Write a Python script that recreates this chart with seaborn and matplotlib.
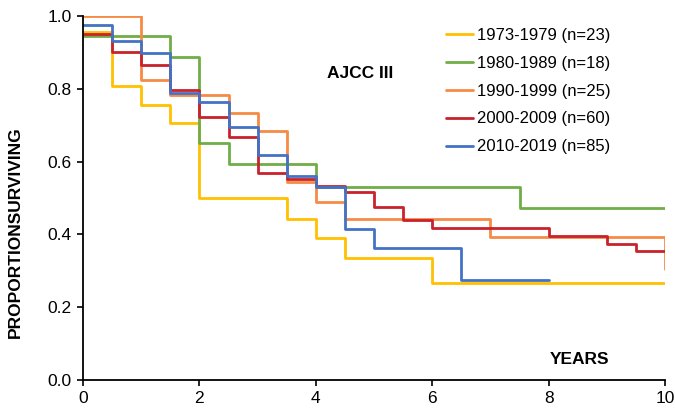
import pandas as pd
import seaborn as sns
import matplotlib.pyplot as plt
from matplotlib.ticker import FormatStrFormatter

# Kaplan-Meier style step values
labels = ['1973-1979 (n=23)', '1980-1989 (n=18)', '1990-1999 (n=25)',
          '2000-2009 (n=60)', '2010-2019 (n=85)']
colors = ['#FFC000', '#70AD47', '#F58B45', '#C8232C', '#4472C4']

t_1973 = [0, 0.5, 1, 1.5, 2, 3.5, 4, 4.5, 6, 10]
s_1973 = [0.955, 0.808, 0.755, 0.707, 0.500, 0.442, 0.389, 0.334, 0.267, 0.267]

t_1980 = [0, 1.5, 2, 2.5, 4, 7.5, 10]
s_1980 = [0.945, 0.886, 0.652, 0.593, 0.531, 0.473, 0.473]

t_1990 = [0, 1, 1.5, 2.5, 3, 3.5, 4, 4.5, 7, 10, 10]
s_1990 = [1.0, 0.825, 0.783, 0.733, 0.685, 0.545, 0.490, 0.441, 0.393, 0.393, 0.305]

t_2000 = [0, 0.5, 1, 1.5, 2, 2.5, 3, 3.5, 4, 4.5, 5, 5.5, 6, 8, 9, 9.5, 10]
s_2000 = [0.951, 0.900, 0.865, 0.797, 0.723, 0.667, 0.570, 0.552, 0.534, 0.516,
          0.474, 0.440, 0.417, 0.396, 0.375, 0.354, 0.354]

t_2010 = [0, 0.5, 1, 1.5, 2, 2.5, 3, 3.5, 4, 4.5, 5, 6.5, 8]
s_2010 = [0.975, 0.931, 0.897, 0.788, 0.764, 0.694, 0.617, 0.560, 0.529, 0.414,
          0.364, 0.275, 0.275]

times = [t_1973, t_1980, t_1990, t_2000, t_2010]
surv = [s_1973, s_1980, s_1990, s_2000, s_2010]

rows = []
for lab, tt, ss in zip(labels, times, surv):
    for i, (t, s) in enumerate(zip(tt, ss)):
        rows.append({'years': t, 'surv': s, 'cohort': lab, 'order': i})
df = pd.DataFrame(rows)

sns.set_style('ticks')
plt.rcParams['font.family'] = ['Liberation Sans', 'DejaVu Sans']
plt.rcParams['text.color'] = 'black'

fig = plt.figure(figsize=(6.75, 4.09), dpi=100)
ax = fig.add_axes([83 / 675, 29 / 409, 582 / 675, 364 / 409])

sns.lineplot(data=df, x='years', y='surv', hue='cohort', hue_order=labels,
             palette=colors, estimator=None, sort=False, units='cohort',
             drawstyle='steps-post', linewidth=2.0, ax=ax)

ax.set_xlim(0, 10)
ax.set_ylim(0, 1.0)
ax.set_xticks([0, 2, 4, 6, 8, 10])
ax.set_yticks([0, 0.2, 0.4, 0.6, 0.8, 1.0])
ax.yaxis.set_major_formatter(FormatStrFormatter('%.1f'))
ax.tick_params(direction='out', length=4, width=1.2, colors='black',
               labelcolor='black', labelsize=12.5, pad=4)
for side in ['left', 'bottom']:
    ax.spines[side].set_color('black')
    ax.spines[side].set_linewidth(1.3)
sns.despine(ax=ax)
ax.set_xlabel('')
ax.set_ylabel('')
for sp in ax.spines.values():
    sp.set_clip_on(False)

fig.text(15 / 675, 1 - 232 / 409, 'PROPORTIONSURVIVING', rotation=90,
         ha='center', va='center', fontsize=12.5, fontweight='bold',
         color='black')
fig.text(360 / 675, 1 - 73 / 409, 'AJCC III', ha='center', va='center',
         fontsize=12.5, fontweight='bold', color='black')
fig.text(580 / 675, 1 - 359 / 409, 'YEARS', ha='center', va='center',
         fontsize=12.5, fontweight='bold', color='black')

handles, labs = ax.get_legend_handles_labels()
leg = ax.legend(handles, labs, loc='upper left', frameon=False,
                bbox_to_anchor=(446 / 675, 1 - 28 / 409),
                bbox_transform=fig.transFigure, borderpad=0, borderaxespad=0,
                handlelength=1.6, handletextpad=0.25, labelspacing=0.77,
                fontsize=12)
for txt in leg.get_texts():
    txt.set_color('black')

fig.savefig('out.png', dpi=100)
